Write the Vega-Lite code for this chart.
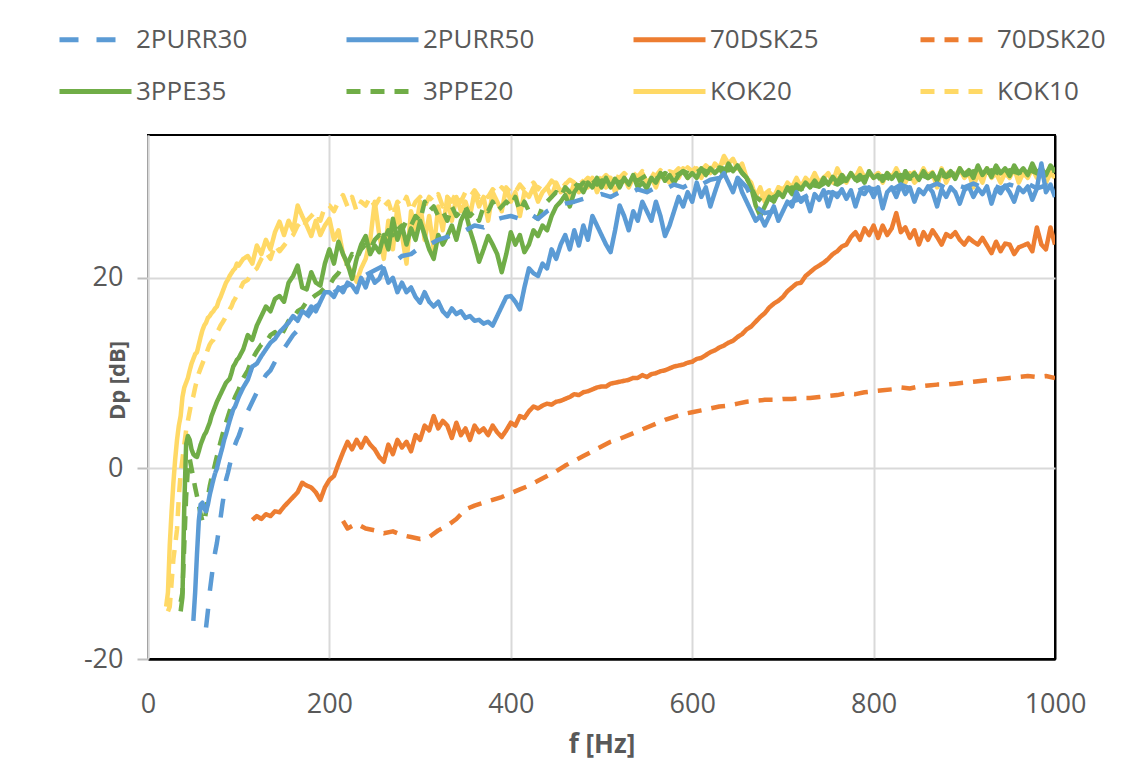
{
"$schema": "https://vega.github.io/schema/vega-lite/v6.json",
"width": 907, "height": 524,
"autosize": {"type": "none"},
"padding": {"left": 148, "top": 135, "right": 91, "bottom": 102},
"background": "white",
"config": {"view": {"stroke": "#000000", "strokeWidth": 2}, "font": "Open Sans"},
"data": {"values": [
{"f":20,"KOK20":-14.5},
{"f":22,"KOK20":-13,"KOK10":-15},
{"f":24,"KOK20":-8,"KOK10":-14.5},
{"f":26,"KOK20":-4.5,"KOK10":-12},
{"f":28,"KOK20":-1.5,"KOK10":-9.5},
{"f":30,"KOK20":1,"KOK10":-8},
{"f":32,"KOK20":3,"KOK10":-6.4},
{"f":34,"KOK20":4.5,"KOK10":-3},
{"f":36,"3PPE35":-15,"3PPE20":-14,"KOK20":5.5,"KOK10":-0.5},
{"f":38,"3PPE35":-13.5,"3PPE20":-13,"KOK20":7.5,"KOK10":1},
{"f":40,"3PPE35":-4,"3PPE20":-8,"KOK20":8.5,"KOK10":2.5},
{"f":42,"3PPE35":2.5,"3PPE20":-3,"KOK20":9,"KOK10":4},
{"f":44,"3PPE35":3.4,"3PPE20":0,"KOK20":9.5,"KOK10":5},
{"f":46,"3PPE35":3,"3PPE20":1,"KOK20":10.3,"KOK10":6},
{"f":48,"3PPE35":2,"3PPE20":0,"KOK20":11,"KOK10":7},
{"f":50,"2PURR50":-16,"3PPE35":1.5,"3PPE20":-1,"KOK20":11.5,"KOK10":7.6},
{"f":52,"2PURR50":-13,"3PPE35":1.3,"3PPE20":-2,"KOK20":12,"KOK10":8.5},
{"f":54,"2PURR50":-9,"3PPE35":1.2,"3PPE20":-2.9,"KOK20":12.2,"KOK10":9.3},
{"f":56,"2PURR50":-5.5,"3PPE35":1.8,"3PPE20":-3.8,"KOK20":13,"KOK10":10},
{"f":58,"2PURR50":-3.8,"3PPE35":2.5,"3PPE20":-4.8,"KOK20":13.8,"KOK10":10.5},
{"f":60,"2PURR50":-3.6,"3PPE35":3,"3PPE20":-5.5,"KOK20":14.5,"KOK10":11},
{"f":62,"2PURR50":-4.2,"3PPE35":3.5,"3PPE20":-5.7,"KOK20":15,"KOK10":11.5},
{"f":64,"2PURR30":-16.7,"2PURR50":-4.5,"3PPE35":3.8,"3PPE20":-4.5,"KOK20":15.3,"KOK10":12},
{"f":66,"2PURR30":-15,"2PURR50":-3.8,"3PPE35":4.3,"3PPE20":-3,"KOK20":15.8,"KOK10":12.5},
{"f":68,"2PURR30":-13,"2PURR50":-2.8,"3PPE35":4.8,"3PPE20":-1.9,"KOK20":16,"KOK10":13},
{"f":70,"2PURR30":-11.5,"2PURR50":-2,"3PPE35":5.5,"3PPE20":-1,"KOK20":16.3,"KOK10":13.3},
{"f":72,"2PURR30":-10,"2PURR50":-1.2,"3PPE35":6,"3PPE20":-0.3,"KOK20":16.5,"KOK10":13.5},
{"f":74,"2PURR30":-8.8,"2PURR50":-0.5,"3PPE35":6.5,"3PPE20":0.5,"KOK20":16.8,"KOK10":14},
{"f":76,"2PURR30":-7.8,"2PURR50":0,"3PPE35":7,"3PPE20":1.3,"KOK20":17,"KOK10":14.3},
{"f":78,"2PURR30":-6.5,"2PURR50":0.8,"3PPE35":7.4,"3PPE20":2,"KOK20":17.6,"KOK10":14.6},
{"f":80,"2PURR30":-5.2,"2PURR50":1.5,"3PPE35":7.8,"3PPE20":2.8,"KOK20":18,"KOK10":15},
{"f":82,"2PURR30":-3.8,"2PURR50":2.2,"3PPE35":8.2,"3PPE20":3.5,"KOK20":18.5,"KOK10":15.3},
{"f":84,"2PURR30":-2.6,"2PURR50":3,"3PPE35":8.6,"3PPE20":4.2,"KOK20":19,"KOK10":15.6},
{"f":86,"2PURR30":-1.2,"2PURR50":3.6,"3PPE35":9,"3PPE20":4.8,"KOK20":19.5,"KOK10":16},
{"f":88,"2PURR30":-0.5,"2PURR50":4.3,"3PPE35":9.2,"3PPE20":5.4,"KOK20":19.8,"KOK10":16.3},
{"f":90,"2PURR30":0.3,"2PURR50":5,"3PPE35":9.4,"3PPE20":6,"KOK20":20.2,"KOK10":16.7},
{"f":92,"2PURR30":1.2,"2PURR50":5.6,"3PPE35":10,"3PPE20":6.6,"KOK20":20.5,"KOK10":17},
{"f":94,"2PURR30":2,"2PURR50":6.2,"3PPE35":10.7,"3PPE20":7,"KOK20":20.8,"KOK10":17.5},
{"f":96,"2PURR30":2.5,"2PURR50":6.5,"3PPE35":11,"3PPE20":7.5,"KOK20":21,"KOK10":17.8},
{"f":98,"2PURR30":3,"2PURR50":7,"3PPE35":11.4,"3PPE20":7.9,"KOK20":21.5,"KOK10":18.2},
{"f":100,"2PURR30":3.4,"2PURR50":7.5,"3PPE35":11.6,"3PPE20":8.3,"KOK20":21.3,"KOK10":18.5},
{"f":105,"2PURR30":4.8,"2PURR50":8.5,"3PPE35":12.5,"3PPE20":9.5,"KOK20":22,"KOK10":19.5},
{"f":110,"2PURR30":6,"2PURR50":9.3,"3PPE35":14,"3PPE20":10.3,"KOK20":22.3,"KOK10":19.8},
{"f":115,"2PURR30":7,"2PURR50":10.7,"70DSK25":-5.4,"3PPE35":13.5,"3PPE20":11.5,"KOK20":21.5,"KOK10":20.6},
{"f":120,"2PURR30":8,"2PURR50":11,"70DSK25":-5,"3PPE35":15,"3PPE20":12.3,"KOK20":23.4,"KOK10":21},
{"f":125,"2PURR30":9,"2PURR50":11.8,"70DSK25":-5.3,"3PPE35":16,"3PPE20":13,"KOK20":22.5,"KOK10":22},
{"f":130,"2PURR30":9.8,"2PURR50":12.5,"70DSK25":-4.8,"3PPE35":17,"3PPE20":13.2,"KOK20":24,"KOK10":22.7},
{"f":135,"2PURR30":10.3,"2PURR50":13.2,"70DSK25":-5,"3PPE35":16.5,"3PPE20":14,"KOK20":23,"KOK10":22},
{"f":140,"2PURR30":11.2,"2PURR50":13.6,"70DSK25":-4.5,"3PPE35":17.8,"3PPE20":14.3,"KOK20":24.8,"KOK10":23.5},
{"f":145,"2PURR30":12,"2PURR50":14.3,"70DSK25":-4.6,"3PPE35":18.1,"3PPE20":13.6,"KOK20":25.9,"KOK10":22.8},
{"f":150,"2PURR30":12.6,"2PURR50":14.8,"70DSK25":-4,"3PPE35":17.5,"3PPE20":14.5,"KOK20":24.5,"KOK10":23.4},
{"f":155,"2PURR30":13.3,"2PURR50":15.3,"70DSK25":-3.5,"3PPE35":19.5,"3PPE20":15.5,"KOK20":26,"KOK10":24},
{"f":160,"2PURR30":14,"2PURR50":16,"70DSK25":-3,"3PPE35":20.2,"3PPE20":15.8,"KOK20":25,"KOK10":24.5},
{"f":165,"2PURR30":14.5,"2PURR50":15.5,"70DSK25":-2.5,"3PPE35":21.3,"3PPE20":16.5,"KOK20":27.6,"KOK10":25.5},
{"f":170,"2PURR30":15.3,"2PURR50":16.5,"70DSK25":-1.5,"3PPE35":19,"3PPE20":16.8,"KOK20":26.5,"KOK10":25},
{"f":175,"2PURR30":15.8,"2PURR50":16.2,"70DSK25":-1.8,"3PPE35":18.8,"3PPE20":17.5,"KOK20":25.5,"KOK10":26},
{"f":180,"2PURR30":16.5,"2PURR50":17,"70DSK25":-2,"3PPE35":20.6,"3PPE20":17.8,"KOK20":24.4,"KOK10":26.5},
{"f":185,"2PURR30":17,"2PURR50":16.5,"70DSK25":-2.5,"3PPE35":19.5,"3PPE20":18.2,"KOK20":26,"KOK10":27},
{"f":190,"2PURR30":17.3,"2PURR50":17.5,"70DSK25":-3.3,"3PPE35":19.2,"3PPE20":18.5,"KOK20":24.5,"KOK10":26},
{"f":195,"2PURR30":17.8,"2PURR50":18.5,"70DSK25":-2,"3PPE35":21.5,"3PPE20":19,"KOK20":25.5,"KOK10":27.5},
{"f":200,"2PURR30":18.2,"2PURR50":18.5,"70DSK25":-1.2,"3PPE35":23,"3PPE20":19.2,"KOK20":26.2,"KOK10":27.6},
{"f":205,"2PURR50":18,"70DSK25":-0.8,"3PPE35":21.5,"3PPE20":20,"KOK20":24,"KOK10":27},
{"f":210,"2PURR30":18.8,"2PURR50":19,"70DSK25":0.5,"3PPE35":23.8,"3PPE20":20.5,"KOK20":25,"KOK10":28},
{"f":215,"2PURR50":18.5,"70DSK25":1.7,"70DSK20":-5.5,"3PPE35":22.5,"3PPE20":21.5,"KOK20":22.5,"KOK10":28.7},
{"f":220,"2PURR30":19.2,"2PURR50":19.5,"70DSK25":2.8,"70DSK20":-6.3,"3PPE35":21.5,"3PPE20":21.5,"KOK20":21.3,"KOK10":27.5},
{"f":225,"2PURR50":19.2,"70DSK25":2,"3PPE35":19.9,"3PPE20":22.5,"KOK20":20.5,"KOK10":28.5},
{"f":230,"2PURR30":19.8,"2PURR50":18.5,"70DSK25":3,"70DSK20":-5.8,"3PPE35":22,"3PPE20":22,"KOK20":19.6,"KOK10":27},
{"f":235,"2PURR50":20,"70DSK25":2.2,"3PPE35":23.5,"3PPE20":23,"KOK20":21,"KOK10":28},
{"f":240,"2PURR30":20.3,"2PURR50":19,"70DSK25":3.2,"70DSK20":-6.3,"3PPE35":24.4,"3PPE20":23.5,"KOK20":22,"KOK10":27.6},
{"f":245,"2PURR50":20.5,"70DSK25":2.5,"3PPE35":22.5,"3PPE20":23,"KOK20":24,"KOK10":28.5},
{"f":250,"2PURR30":20.8,"2PURR50":19.5,"70DSK25":2,"70DSK20":-6.5,"3PPE35":23.4,"3PPE20":24,"KOK20":28,"KOK10":27.5},
{"f":255,"2PURR50":19.9,"70DSK25":1.2,"3PPE35":22.7,"3PPE20":24.5,"KOK20":24.5,"KOK10":28.3},
{"f":260,"2PURR30":21.3,"2PURR50":21,"70DSK25":0.7,"70DSK20":-6.8,"3PPE35":24.5,"3PPE20":24,"KOK20":22,"KOK10":27.5},
{"f":265,"2PURR50":19.5,"70DSK25":2.5,"3PPE35":23,"3PPE20":25,"KOK20":26,"KOK10":28},
{"f":270,"2PURR30":21.5,"2PURR50":20,"70DSK25":1.5,"70DSK20":-6.6,"3PPE35":26.2,"3PPE20":24.5,"KOK20":23,"KOK10":26.5},
{"f":275,"2PURR50":18.5,"70DSK25":3,"3PPE35":24,"3PPE20":25.5,"KOK20":27.5,"KOK10":28},
{"f":280,"2PURR30":22.3,"2PURR50":19.5,"70DSK25":2.2,"70DSK20":-7,"3PPE35":25.5,"3PPE20":25,"KOK20":24.5,"KOK10":27.5},
{"f":285,"2PURR50":18.5,"70DSK25":2.8,"3PPE35":23.5,"3PPE20":26,"KOK20":21.5,"KOK10":28.5},
{"f":290,"2PURR30":22.5,"2PURR50":19,"70DSK25":1.8,"70DSK20":-7.2,"3PPE35":25.2,"3PPE20":25.5,"KOK20":27,"KOK10":27},
{"f":295,"2PURR50":18,"70DSK25":3.5,"3PPE35":24,"3PPE20":26.5,"KOK20":25,"KOK10":28},
{"f":300,"2PURR30":23.2,"2PURR50":17.4,"70DSK25":3,"70DSK20":-7.4,"3PPE35":26,"3PPE20":26,"KOK20":28,"KOK10":28.5},
{"f":305,"2PURR50":18.5,"70DSK25":4.5,"3PPE35":24.5,"3PPE20":28,"KOK20":24,"KOK10":27.5},
{"f":310,"2PURR30":23.5,"2PURR50":17.5,"70DSK25":4,"70DSK20":-7.2,"3PPE35":23,"3PPE20":27,"KOK20":26.5,"KOK10":28.5},
{"f":315,"2PURR50":17,"70DSK25":5.5,"3PPE35":22,"3PPE20":27.5,"KOK20":23,"KOK10":28},
{"f":320,"2PURR30":24,"2PURR50":17.5,"70DSK25":4.2,"70DSK20":-6.5,"3PPE35":24.5,"3PPE20":26.5,"KOK20":27.5,"KOK10":28.8},
{"f":325,"2PURR50":16.5,"70DSK25":5,"3PPE35":23.5,"3PPE20":27,"KOK20":25,"KOK10":27.5},
{"f":330,"2PURR30":24.3,"2PURR50":16,"70DSK25":4.5,"70DSK20":-6,"3PPE35":24.4,"3PPE20":26,"KOK20":28.5,"KOK10":28.5},
{"f":335,"2PURR50":16.8,"70DSK25":3.2,"3PPE35":25.5,"3PPE20":27.5,"KOK20":26,"KOK10":28},
{"f":340,"2PURR30":24.8,"2PURR50":16.2,"70DSK25":4.8,"70DSK20":-5.3,"3PPE35":24,"3PPE20":26.5,"KOK20":28.5,"KOK10":29},
{"f":345,"2PURR50":16.5,"70DSK25":3.5,"3PPE35":26,"3PPE20":27,"KOK20":27,"KOK10":28},
{"f":350,"2PURR30":25,"2PURR50":15.8,"70DSK25":4.2,"70DSK20":-4.3,"3PPE35":27,"3PPE20":27.5,"KOK20":28,"KOK10":29},
{"f":355,"2PURR50":16,"70DSK25":3,"3PPE35":25,"3PPE20":26.5,"KOK20":26.5,"KOK10":28.5},
{"f":360,"2PURR30":25.5,"2PURR50":15.5,"70DSK25":4.5,"70DSK20":-3.9,"3PPE35":23.5,"3PPE20":27,"KOK20":29,"KOK10":29.2},
{"f":365,"2PURR50":15.6,"70DSK25":3.8,"3PPE35":21.7,"3PPE20":26,"KOK20":27.5,"KOK10":28.5},
{"f":370,"2PURR30":25.3,"2PURR50":15.2,"70DSK25":4.2,"70DSK20":-3.6,"3PPE35":23,"3PPE20":27.5,"KOK20":28.5,"KOK10":29},
{"f":375,"2PURR50":15.4,"70DSK25":3.5,"3PPE35":24.4,"3PPE20":27,"KOK20":26,"KOK10":28.5},
{"f":380,"2PURR30":26,"2PURR50":15,"70DSK25":4.5,"70DSK20":-3.3,"3PPE35":23.5,"3PPE20":28,"KOK20":29,"KOK10":29.3},
{"f":385,"2PURR50":16,"70DSK25":3.8,"3PPE35":22.5,"3PPE20":27,"KOK20":28,"KOK10":28.8},
{"f":390,"2PURR30":26.3,"2PURR50":17,"70DSK25":3.3,"70DSK20":-3,"3PPE35":20.6,"3PPE20":27.5,"KOK20":27,"KOK10":29.5},
{"f":395,"2PURR50":18,"70DSK25":4,"3PPE35":22.5,"3PPE20":28,"KOK20":29.5,"KOK10":29},
{"f":400,"2PURR30":26.5,"2PURR50":18.1,"70DSK25":4.8,"70DSK20":-2.6,"3PPE35":24.8,"3PPE20":27.5,"KOK20":28,"KOK10":29.5},
{"f":405,"2PURR50":17.5,"70DSK25":4.5,"3PPE35":23.5,"3PPE20":28.5,"KOK20":29,"KOK10":29},
{"f":410,"2PURR30":26.2,"2PURR50":16.7,"70DSK25":5.5,"70DSK20":-2.2,"3PPE35":24.5,"3PPE20":27,"KOK20":26.5,"KOK10":29.8},
{"f":415,"2PURR50":19,"70DSK25":5.3,"3PPE35":22.7,"3PPE20":28,"KOK20":29,"KOK10":29.2},
{"f":420,"2PURR30":26.8,"2PURR50":21,"70DSK25":6,"70DSK20":-1.8,"3PPE35":23.5,"3PPE20":27,"KOK20":28.5,"KOK10":29.5},
{"f":425,"2PURR50":20.5,"70DSK25":6.5,"3PPE35":25,"3PPE20":26.5,"KOK20":29.5,"KOK10":30},
{"f":430,"2PURR30":26.2,"2PURR50":20.2,"70DSK25":6.3,"70DSK20":-1.3,"3PPE35":24.4,"3PPE20":26.2,"KOK20":28,"KOK10":29.3},
{"f":435,"2PURR50":21.5,"70DSK25":6.6,"3PPE35":25.5,"3PPE20":27.5,"KOK20":29,"KOK10":30},
{"f":440,"2PURR30":27,"2PURR50":21,"70DSK25":6.8,"70DSK20":-0.8,"3PPE35":25,"3PPE20":28,"KOK20":29.5,"KOK10":29.5},
{"f":445,"2PURR50":23,"70DSK25":6.7,"3PPE35":26.5,"3PPE20":28.5,"KOK20":28.5,"KOK10":30.2},
{"f":450,"2PURR30":27.5,"2PURR50":22,"70DSK25":7,"70DSK20":-0.3,"3PPE35":27.5,"3PPE20":29,"KOK20":30,"KOK10":29.8},
{"f":455,"2PURR50":23.5,"70DSK25":7.1,"3PPE35":28,"3PPE20":28.5,"KOK20":29,"KOK10":30.2},
{"f":460,"2PURR30":27.8,"2PURR50":24.5,"70DSK25":7.3,"70DSK20":0.3,"3PPE35":28.7,"3PPE20":29.5,"KOK20":29.5,"KOK10":29.8},
{"f":465,"2PURR50":23,"70DSK25":7.5,"3PPE35":27.5,"3PPE20":29,"KOK20":28.5,"KOK10":30.3},
{"f":470,"2PURR30":28,"2PURR50":25,"70DSK25":7.8,"70DSK20":0.8,"3PPE35":29,"3PPE20":30,"KOK20":30,"KOK10":30},
{"f":475,"2PURR50":23.4,"70DSK25":7.7,"3PPE35":29.7,"3PPE20":29.5,"KOK20":29,"KOK10":30.5},
{"f":480,"2PURR30":28.3,"2PURR50":25.5,"70DSK25":8,"70DSK20":1.3,"3PPE35":29,"3PPE20":30,"KOK20":30,"KOK10":30},
{"f":485,"2PURR50":24,"70DSK25":8.1,"3PPE35":30,"3PPE20":29.8,"KOK20":29.5,"KOK10":30.5},
{"f":490,"2PURR30":28.5,"2PURR50":26.5,"70DSK25":8.3,"70DSK20":1.8,"3PPE35":29.5,"3PPE20":30.3,"KOK20":30.5,"KOK10":30.2},
{"f":495,"2PURR50":25.5,"70DSK25":8.5,"3PPE35":30.5,"3PPE20":29.8,"KOK20":29,"KOK10":30.7},
{"f":500,"2PURR30":28.8,"2PURR50":24.5,"70DSK25":8.6,"70DSK20":2.3,"3PPE35":29.5,"3PPE20":30.2,"KOK20":30,"KOK10":30.3},
{"f":505,"2PURR50":23.5,"70DSK25":8.6,"3PPE35":30.5,"KOK20":29.5,"KOK10":30.8},
{"f":510,"2PURR30":28.5,"2PURR50":22.7,"70DSK25":8.9,"70DSK20":2.8,"3PPE35":29.5,"3PPE20":30.5,"KOK20":30.5,"KOK10":30.3},
{"f":515,"2PURR50":25,"70DSK25":9,"3PPE35":30.4,"KOK20":29,"KOK10":30.7},
{"f":520,"2PURR30":29,"2PURR50":27.6,"70DSK25":9.1,"70DSK20":3.1,"3PPE35":29.5,"3PPE20":30,"KOK20":30,"KOK10":30.5},
{"f":525,"2PURR50":26.5,"70DSK25":9.2,"3PPE35":30.5,"KOK20":30.5,"KOK10":31},
{"f":530,"2PURR30":28.8,"2PURR50":25,"70DSK25":9.3,"70DSK20":3.5,"3PPE35":29.8,"3PPE20":30.6,"KOK20":29.5,"KOK10":30.5},
{"f":535,"2PURR50":27,"70DSK25":9.5,"3PPE35":30.8,"KOK20":30.5,"KOK10":31},
{"f":540,"2PURR30":29.3,"2PURR50":26,"70DSK25":9.5,"70DSK20":3.9,"3PPE35":29.5,"3PPE20":30.2,"KOK20":30,"KOK10":30.6},
{"f":545,"2PURR50":28,"70DSK25":9.8,"3PPE35":30,"KOK20":31,"KOK10":31.2},
{"f":550,"2PURR30":29,"2PURR50":27,"70DSK25":9.6,"70DSK20":4.3,"3PPE35":29.4,"3PPE20":30.8,"KOK20":30,"KOK10":30.8},
{"f":555,"2PURR50":26,"70DSK25":9.9,"3PPE35":30.5,"KOK20":30.5,"KOK10":31},
{"f":560,"2PURR30":29.5,"2PURR50":28,"70DSK25":10,"70DSK20":4.7,"3PPE35":30,"3PPE20":30.4,"KOK20":29.5,"KOK10":30.7},
{"f":565,"2PURR50":26.5,"70DSK25":10.2,"3PPE35":31,"KOK20":31,"KOK10":31.3},
{"f":570,"2PURR30":29.3,"2PURR50":24.4,"70DSK25":10.3,"70DSK20":5.1,"3PPE35":30.2,"3PPE20":31,"KOK20":30.5,"KOK10":30.8},
{"f":575,"2PURR50":25.5,"70DSK25":10.5,"3PPE35":30.8,"KOK20":30,"KOK10":31.2},
{"f":580,"2PURR30":29.8,"2PURR50":27,"70DSK25":10.7,"70DSK20":5.4,"3PPE35":30,"3PPE20":30.6,"KOK20":31,"KOK10":31},
{"f":585,"2PURR50":28.5,"70DSK25":10.8,"3PPE35":30.8,"KOK20":30.5,"KOK10":31.5},
{"f":590,"2PURR30":29.5,"2PURR50":27.5,"70DSK25":10.9,"70DSK20":5.7,"3PPE35":31.2,"3PPE20":31.2,"KOK20":31.5,"KOK10":31},
{"f":595,"2PURR50":29,"70DSK25":11.1,"3PPE35":30.5,"KOK20":30.5,"KOK10":31.6},
{"f":600,"2PURR30":30,"2PURR50":28,"70DSK25":11.2,"70DSK20":5.9,"3PPE35":31,"3PPE20":30.8,"KOK20":31,"KOK10":31.2},
{"f":605,"2PURR50":30,"70DSK25":11.5,"3PPE35":30.5,"KOK20":31.5,"KOK10":31.7},
{"f":610,"2PURR30":29.8,"2PURR50":28.5,"70DSK25":11.6,"70DSK20":6.1,"3PPE35":31.5,"3PPE20":31.4,"KOK20":30.5,"KOK10":31.2},
{"f":615,"2PURR50":29.5,"70DSK25":11.9,"3PPE35":30.8,"KOK20":31.5,"KOK10":31.8},
{"f":620,"2PURR30":30.3,"2PURR50":27.5,"70DSK25":12.2,"70DSK20":6.3,"3PPE35":31.5,"3PPE20":31,"KOK20":31,"KOK10":31.4},
{"f":625,"2PURR50":29,"70DSK25":12.4,"3PPE35":31,"KOK20":32,"KOK10":32},
{"f":630,"2PURR30":30.5,"2PURR50":30.4,"70DSK25":12.7,"70DSK20":6.5,"3PPE35":31.5,"3PPE20":31.6,"KOK20":31.5,"KOK10":31.6},
{"f":635,"2PURR50":31,"70DSK25":12.9,"3PPE35":30.8,"KOK20":32.8,"KOK10":32.3},
{"f":640,"2PURR30":31,"2PURR50":30,"70DSK25":13.2,"70DSK20":6.6,"3PPE35":32,"3PPE20":31.3,"KOK20":32,"KOK10":31.8},
{"f":645,"2PURR50":29,"70DSK25":13.4,"3PPE35":31.2,"KOK20":32.5,"KOK10":32.2},
{"f":650,"2PURR30":30.5,"2PURR50":30.5,"70DSK25":13.8,"70DSK20":6.8,"3PPE35":31.8,"3PPE20":31.6,"KOK20":31.5,"KOK10":31.5},
{"f":655,"2PURR50":29,"70DSK25":14.1,"3PPE35":31,"KOK20":32,"KOK10":31.8},
{"f":660,"2PURR30":29.5,"2PURR50":28,"70DSK25":14.6,"70DSK20":7,"3PPE35":30.5,"3PPE20":30.5,"KOK20":30.5,"KOK10":30.5},
{"f":665,"2PURR50":27,"70DSK25":14.9,"3PPE35":29.5,"KOK20":30,"KOK10":29.5},
{"f":670,"2PURR30":27.5,"2PURR50":26,"70DSK25":15.4,"70DSK20":7.1,"3PPE35":27.6,"3PPE20":28.5,"KOK20":28.5,"KOK10":28.8},
{"f":675,"2PURR50":26.5,"70DSK25":15.9,"3PPE35":26.5,"KOK20":29.5,"KOK10":28.3},
{"f":680,"2PURR30":26.8,"2PURR50":25.5,"70DSK25":16.3,"70DSK20":7.2,"3PPE35":27.5,"3PPE20":27.8,"KOK20":28,"KOK10":28.8},
{"f":685,"2PURR50":26.5,"70DSK25":16.9,"3PPE35":28.5,"KOK20":29,"KOK10":29.2},
{"f":690,"2PURR30":27,"2PURR50":27.5,"70DSK25":17.3,"70DSK20":7.2,"3PPE35":28,"3PPE20":28.5,"KOK20":28.5,"KOK10":29},
{"f":695,"2PURR50":26,"70DSK25":17.6,"3PPE35":29,"KOK20":29.5,"KOK10":29.5},
{"f":700,"2PURR30":27.5,"2PURR50":27,"70DSK25":18,"70DSK20":7.3,"3PPE35":28.5,"3PPE20":29,"KOK20":29,"KOK10":29.3},
{"f":705,"2PURR50":28,"70DSK25":18.6,"3PPE35":29.5,"KOK20":30,"KOK10":29.8},
{"f":710,"2PURR30":28,"2PURR50":27.5,"70DSK25":19,"70DSK20":7.3,"3PPE35":28.8,"3PPE20":29.5,"KOK20":29.5,"KOK10":29.5},
{"f":715,"2PURR50":29,"70DSK25":19.4,"3PPE35":29.8,"KOK20":30.5,"KOK10":30},
{"f":720,"2PURR30":28.3,"2PURR50":28,"70DSK25":19.5,"70DSK20":7.4,"3PPE35":29.3,"3PPE20":29.3,"KOK20":29.5,"KOK10":29.7},
{"f":725,"2PURR50":28.5,"70DSK25":20.2,"3PPE35":30,"KOK20":30.5,"KOK10":30.2},
{"f":730,"2PURR30":28.8,"2PURR50":27,"70DSK25":20.6,"70DSK20":7.4,"3PPE35":29.5,"3PPE20":29.8,"KOK20":30,"KOK10":29.8},
{"f":735,"2PURR50":28.8,"70DSK25":21,"3PPE35":30.2,"KOK20":31,"KOK10":30.3},
{"f":740,"2PURR30":28.5,"2PURR50":28.2,"70DSK25":21.3,"70DSK20":7.5,"3PPE35":29.6,"3PPE20":29.6,"KOK20":30,"KOK10":30},
{"f":745,"2PURR50":29.2,"70DSK25":21.6,"3PPE35":30.5,"KOK20":30.5,"KOK10":30.5},
{"f":750,"2PURR30":29,"2PURR50":27.5,"70DSK25":22,"70DSK20":7.6,"3PPE35":29.8,"3PPE20":30.2,"KOK20":31,"KOK10":30.2},
{"f":755,"2PURR50":29,"70DSK25":22.5,"3PPE35":30.6,"KOK20":30,"KOK10":30.6},
{"f":760,"2PURR30":28.8,"2PURR50":28.5,"70DSK25":22.8,"70DSK20":7.7,"3PPE35":30,"3PPE20":29.8,"KOK20":31.5,"KOK10":30.3},
{"f":765,"2PURR50":29.3,"70DSK25":23.3,"3PPE35":30.8,"KOK20":30.5,"KOK10":30.8},
{"f":770,"2PURR30":29.3,"2PURR50":28.3,"70DSK25":23.5,"70DSK20":7.9,"3PPE35":30.2,"3PPE20":30.4,"KOK20":30,"KOK10":30.4},
{"f":775,"2PURR50":29.2,"70DSK25":24.3,"3PPE35":31,"KOK20":31,"KOK10":30.8},
{"f":780,"2PURR30":29,"2PURR50":27.5,"70DSK25":24.8,"70DSK20":7.8,"3PPE35":30.3,"3PPE20":30.1,"KOK20":30.5,"KOK10":30.5},
{"f":785,"2PURR50":29,"70DSK25":24,"3PPE35":30.8,"KOK20":31.5,"KOK10":31},
{"f":790,"2PURR30":29.5,"2PURR50":28.8,"70DSK25":25.2,"70DSK20":8,"3PPE35":30,"3PPE20":30.6,"KOK20":30.5,"KOK10":30.5},
{"f":795,"2PURR50":29.5,"70DSK25":24.5,"3PPE35":31.2,"KOK20":31,"KOK10":30.9},
{"f":800,"2PURR30":29.3,"2PURR50":28.5,"70DSK25":25.5,"70DSK20":8.1,"3PPE35":30.5,"3PPE20":30.2,"KOK20":30.5,"KOK10":30.6},
{"f":805,"2PURR50":29.5,"70DSK25":24.2,"3PPE35":30.8,"KOK20":31,"KOK10":31},
{"f":810,"2PURR30":29.6,"2PURR50":27.3,"70DSK25":25.5,"70DSK20":8.2,"3PPE35":30.2,"3PPE20":30.7,"KOK20":30,"KOK10":30.5},
{"f":815,"2PURR50":29,"70DSK25":24.5,"3PPE35":31,"KOK20":31,"KOK10":31},
{"f":820,"2PURR30":29.2,"2PURR50":29.5,"70DSK25":25.2,"70DSK20":8.3,"3PPE35":30.4,"3PPE20":30.3,"KOK20":30.5,"KOK10":30.6},
{"f":825,"2PURR50":28.5,"70DSK25":26.8,"3PPE35":31,"KOK20":31.5,"KOK10":31.2},
{"f":830,"2PURR30":29.8,"2PURR50":29.8,"70DSK25":24.8,"70DSK20":8.5,"3PPE35":30,"3PPE20":30.8,"KOK20":30.5,"KOK10":30.7},
{"f":835,"2PURR50":28.8,"70DSK25":25.3,"3PPE35":31.2,"KOK20":30,"KOK10":31},
{"f":840,"2PURR30":29.4,"2PURR50":29.5,"70DSK25":24.2,"70DSK20":8.4,"3PPE35":30.5,"3PPE20":30.4,"KOK20":31,"KOK10":30.6},
{"f":845,"2PURR50":28,"70DSK25":25,"3PPE35":31,"KOK20":30,"KOK10":31.1},
{"f":850,"2PURR30":29.8,"2PURR50":29.3,"70DSK25":23.5,"70DSK20":8.6,"3PPE35":30.3,"3PPE20":30.9,"KOK20":30.5,"KOK10":30.7},
{"f":855,"2PURR50":28.8,"70DSK25":24.8,"3PPE35":31.2,"KOK20":31.5,"KOK10":31.2},
{"f":860,"2PURR30":29.5,"2PURR50":29.6,"70DSK25":24,"70DSK20":8.7,"3PPE35":30.5,"3PPE20":30.5,"KOK20":30.5,"KOK10":30.8},
{"f":865,"2PURR50":29,"70DSK25":25,"3PPE35":31,"KOK20":31,"KOK10":31.1},
{"f":870,"2PURR30":29.9,"2PURR50":27.5,"70DSK25":24.3,"70DSK20":8.8,"3PPE35":30.2,"3PPE20":31,"KOK20":29.5,"KOK10":30.6},
{"f":875,"2PURR50":29.3,"70DSK25":23.5,"3PPE35":31.3,"KOK20":31.5,"KOK10":31.2},
{"f":880,"2PURR30":29.4,"2PURR50":28.5,"70DSK25":24.6,"70DSK20":8.8,"3PPE35":30.6,"3PPE20":30.6,"KOK20":30,"KOK10":30.8},
{"f":885,"2PURR50":29.5,"70DSK25":24.3,"3PPE35":31.2,"KOK20":31,"KOK10":31.3},
{"f":890,"2PURR30":29.8,"2PURR50":29,"70DSK25":24.8,"70DSK20":8.9,"3PPE35":30.4,"3PPE20":31,"KOK20":30.5,"KOK10":30.8},
{"f":895,"2PURR50":27.8,"70DSK25":24,"3PPE35":31.5,"KOK20":31.5,"KOK10":31.2},
{"f":900,"2PURR30":29.5,"2PURR50":29.2,"70DSK25":23.5,"70DSK20":9,"3PPE35":30.8,"3PPE20":30.7,"KOK20":30.5,"KOK10":30.9},
{"f":905,"2PURR50":29.6,"70DSK25":24.2,"3PPE35":31.3,"KOK20":31,"KOK10":31.3},
{"f":910,"2PURR30":29.9,"2PURR50":28.5,"70DSK25":23.8,"70DSK20":9.1,"3PPE35":30.5,"3PPE20":31.2,"KOK20":29.5,"KOK10":30.8},
{"f":915,"2PURR50":29.4,"70DSK25":23.5,"3PPE35":31.8,"KOK20":31,"KOK10":31.2},
{"f":920,"2PURR30":29.5,"2PURR50":28.8,"70DSK25":24.2,"70DSK20":9.2,"3PPE35":30.8,"3PPE20":30.8,"KOK20":30,"KOK10":30.9},
{"f":925,"2PURR50":29.6,"70DSK25":23.4,"3PPE35":31.5,"KOK20":31.5,"KOK10":31.4},
{"f":930,"2PURR30":29.8,"2PURR50":27.8,"70DSK25":22.6,"70DSK20":9.3,"3PPE35":30.6,"3PPE20":31.3,"KOK20":30.5,"KOK10":30.9},
{"f":935,"2PURR50":29.3,"70DSK25":23.8,"3PPE35":31.8,"KOK20":31,"KOK10":31.3},
{"f":940,"2PURR30":29.4,"2PURR50":28.9,"70DSK25":22.8,"70DSK20":9.4,"3PPE35":31,"3PPE20":30.9,"KOK20":30,"KOK10":30.9},
{"f":945,"2PURR50":29.7,"70DSK25":23.6,"3PPE35":31.5,"KOK20":31,"KOK10":31.4},
{"f":950,"2PURR30":29.8,"2PURR50":29,"70DSK25":23.5,"70DSK20":9.5,"3PPE35":30.7,"3PPE20":31.3,"KOK20":30.5,"KOK10":31},
{"f":955,"2PURR50":28,"70DSK25":22.5,"3PPE35":31.8,"KOK20":31.5,"KOK10":31.5},
{"f":960,"2PURR30":29.5,"2PURR50":29.5,"70DSK25":23.2,"70DSK20":9.6,"3PPE35":31,"3PPE20":31,"KOK20":30,"KOK10":31},
{"f":965,"2PURR50":29,"70DSK25":23.4,"3PPE35":31.5,"KOK20":31,"KOK10":31.4},
{"f":970,"2PURR30":29.9,"2PURR50":29.6,"70DSK25":23.6,"70DSK20":9.7,"3PPE35":30.8,"3PPE20":31.4,"KOK20":30.5,"KOK10":31},
{"f":975,"2PURR50":28.2,"70DSK25":22.8,"3PPE35":32,"KOK20":31.5,"KOK10":31.5},
{"f":980,"2PURR30":29.4,"2PURR50":29.4,"70DSK25":25.3,"70DSK20":9.6,"3PPE35":31,"3PPE20":31,"KOK20":30.5,"KOK10":31.1},
{"f":985,"2PURR50":32,"70DSK25":23.5,"3PPE35":31.5,"KOK20":31,"KOK10":31.4},
{"f":990,"2PURR30":29.7,"2PURR50":29,"70DSK25":23,"70DSK20":9.7,"3PPE35":30.8,"3PPE20":31.5,"KOK20":30,"KOK10":31},
{"f":995,"2PURR50":29.8,"70DSK25":25.3,"3PPE35":31.8,"KOK20":31,"KOK10":31.5},
{"f":1000,"2PURR30":29.5,"2PURR50":28.5,"70DSK25":23.5,"70DSK20":9.5,"3PPE35":31.2,"3PPE20":31.2,"KOK20":30.5,"KOK10":31.2}
]},
"transform": [
  {"fold": ["2PURR30","2PURR50","70DSK25","70DSK20","3PPE35","3PPE20","KOK20","KOK10"], "as": ["series","dp"]},
  {"filter": "isValid(datum.dp)"}
],
"mark": {"type": "line", "strokeWidth": 4.5, "strokeJoin": "round", "strokeCap": "butt", "clip": true},
"encoding": {
  "x": {"field": "f", "type": "quantitative", "scale": {"domain": [0, 1000], "nice": false},
    "axis": {"values": [0,200,400,600,800,1000], "title": "f [Hz]", "grid": true, "labelExpr": "'' + datum.value",
      "gridColor": {"condition": {"test": "datum.value === 1000", "value": "#000000"}, "value": "#D9D9D9"},
      "gridWidth": 2, "ticks": false, "tickSize": 0, "domainColor": "#000000", "domainWidth": 2,
      "labelFontSize": 27, "labelColor": "#595959", "labelPadding": 32, "labelFlush": false,
      "titleFontSize": 26, "titleFontWeight": "bold", "titleColor": "#595959", "titlePadding": 14}},
  "y": {"field": "dp", "type": "quantitative", "scale": {"domain": [-20, 35], "nice": false},
    "axis": {"values": [-20,0,20], "title": "Dp [dB]", "grid": true, "labelExpr": "'' + datum.value",
      "gridColor": {"condition": {"test": "datum.value === -20", "value": "#000000"}, "value": "#D9D9D9"},
      "gridWidth": 2, "tickSize": 11, "tickColor": "#BFBFBF", "tickWidth": 2,
      "domainColor": "#D9D9D9", "domainWidth": 2,
      "labelFontSize": 27, "labelColor": "#595959", "labelPadding": 14,
      "titleFontSize": 22, "titleFontWeight": "bold", "titleColor": "#595959",
      "titleX": -31, "titleY": 245, "titleAngle": 270, "titleAlign": "center", "titleBaseline": "middle"}},
  "color": {"field": "series", "type": "nominal",
    "scale": {"domain": ["2PURR30","2PURR50","70DSK25","70DSK20","3PPE35","3PPE20","KOK20","KOK10"],
      "range": ["#5B9BD5","#5B9BD5","#ED7D31","#ED7D31","#70AD47","#70AD47","#FFD966","#FFD966"]},
    "legend": {"orient": "none", "legendX": -91, "legendY": -134, "direction": "horizontal", "columns": 4, "title": null,
      "symbolType": "stroke", "symbolSize": 5184, "symbolStrokeWidth": 5, "labelFontSize": 26, "labelColor": "#595959",
      "labelOffset": 2, "columnPadding": 88, "rowPadding": -1, "gridAlign": "all"}},
  "strokeDash": {"field": "series", "type": "nominal",
    "scale": {"domain": ["2PURR30","2PURR50","70DSK25","70DSK20","3PPE35","3PPE20","KOK20","KOK10"],
      "range": [[19,18],[1,0],[1,0],[14,10],[1,0],[14,10],[1,0],[14,10]]},
    "legend": {"orient": "none", "legendX": -91, "legendY": -134, "direction": "horizontal", "columns": 4, "title": null,
      "symbolType": "stroke", "symbolSize": 5184, "symbolStrokeWidth": 5, "labelFontSize": 26, "labelColor": "#595959",
      "labelOffset": 2, "columnPadding": 88, "rowPadding": -1, "gridAlign": "all"}}
}
}
